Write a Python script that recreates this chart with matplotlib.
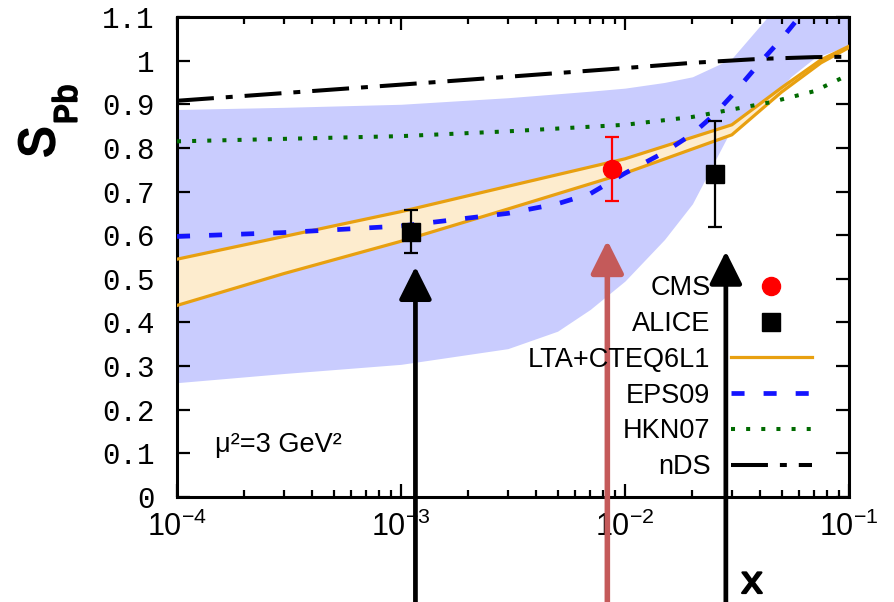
import matplotlib
matplotlib.use('Agg')
import matplotlib.pyplot as plt
import matplotlib.patheffects as pe
from matplotlib.lines import Line2D
from matplotlib.ticker import LogLocator, NullFormatter

plt.rcParams['lines.scale_dashes'] = False
plt.rcParams['mathtext.fontset'] = 'custom'
plt.rcParams['mathtext.rm'] = 'Liberation Sans'
plt.rcParams['mathtext.it'] = 'Liberation Sans:italic'
plt.rcParams['mathtext.bf'] = 'Liberation Sans:bold'
plt.rcParams['mathtext.sf'] = 'Liberation Sans'

# bande EPS09 (incertitude)
band_x = [1e-4, 3e-4, 1e-3, 3e-3, 5e-3, 7e-3, 1e-2, 1.5e-2, 2e-2, 3e-2, 4.5e-2, 5.5e-2, 7e-2, 1e-1]
band_lo = [0.262, 0.283, 0.304, 0.34, 0.38, 0.43, 0.495, 0.59, 0.672, 0.845, 0.91, 0.963, 1.006, 1.035]
band_hi = [0.888, 0.893, 0.900, 0.915, 0.924, 0.930, 0.937, 0.950, 0.963, 1.005, 1.11, 1.2, 1.3, 1.4]

# LTA+CTEQ6L1
lta_x = [1e-4, 3e-4, 1e-3, 3e-3, 1e-2, 3e-2, 5e-2, 7.5e-2, 1e-1]
lta_hi = [0.545, 0.597, 0.654, 0.712, 0.775, 0.853, 0.938, 1.002, 1.033]
lta_lo = [0.439, 0.512, 0.586, 0.66, 0.742, 0.830, 0.928, 0.995, 1.03]

# EPS09
eps_x = [1e-4, 3e-4, 1e-3, 3e-3, 5e-3, 7e-3, 1e-2, 1.5e-2, 2e-2, 2.5e-2, 3e-2, 4e-2, 5e-2, 6e-2, 8e-2]
eps_y = [0.597, 0.606, 0.621, 0.650, 0.672, 0.695, 0.742, 0.79, 0.832, 0.876, 0.92, 0.995, 1.05, 1.10, 1.2]

# HKN07
hkn_x = [1e-4, 1e-3, 3e-3, 1e-2, 2e-2, 3e-2, 4.5e-2, 7e-2, 1e-1]
hkn_y = [0.815, 0.827, 0.838, 0.853, 0.871, 0.888, 0.905, 0.93, 0.968]

# nDS
nds_x = [1e-4, 1e-3, 3e-3, 1e-2, 2e-2, 4e-2, 7e-2, 1e-1]
nds_y = [0.908, 0.945, 0.963, 0.983, 0.995, 1.004, 1.008, 1.009]

# points experimentaux
cms_x = [0.00877]
cms_y = [0.752]
cms_err_lo = [0.073]
cms_err_hi = [0.074]

alice_x = [0.00111, 0.0252]
alice_y = [0.608, 0.740]
alice_err_lo = [0.048, 0.121]
alice_err_hi = [0.050, 0.121]

# fleches
arrow_x = [0.00116, 0.00834, 0.0282]
arrow_tip = [0.528, 0.588, 0.563]
arrow_col = ['black', '#c45a5a', 'black']

xtick_vals = [1e-4, 1e-3, 1e-2, 1e-1]
xtick_labels = [r'$10^{-4}$', r'$10^{-3}$', r'$10^{-2}$', r'$10^{-1}$']
ytick_vals = [0, 0.1, 0.2, 0.3, 0.4, 0.5, 0.6, 0.7, 0.8, 0.9, 1.0, 1.1]
ytick_labels = ['0', '0.1', '0.2', '0.3', '0.4', '0.5', '0.6', '0.7', '0.8', '0.9', '1', '1.1']

orange = '#e8a010'

fig = plt.figure(figsize=(8.94, 6.02), dpi=100)
ax = fig.add_axes([177 / 894, 1 - 497 / 602, 672 / 894, 480 / 602])

ax.fill_between(band_x, band_lo, band_hi, color='#c9ccfe', lw=0, zorder=1)
ax.fill_between(lta_x, lta_lo, lta_hi, color='#fdecce', lw=0, zorder=2)
ax.plot(lta_x, lta_hi, color=orange, lw=2.3, zorder=3)
ax.plot(lta_x, lta_lo, color=orange, lw=2.3, zorder=3)
ax.plot(hkn_x, hkn_y, color='#006a00', lw=2.9, dashes=(2.9, 8), zorder=3)
ax.plot(nds_x, nds_y, color='black', lw=2.9, dashes=(26.6, 8.6, 5, 8.6), zorder=3)
ax.plot(eps_x, eps_y, color='#1414ff', lw=3.4, dashes=(9.4, 13.7), zorder=4)

# fleches depuis le bas
for x, tip, c in zip(arrow_x, arrow_tip, arrow_col):
    ax.annotate('', xy=(x, tip), xytext=(x, -3), xycoords='data', textcoords='data',
                annotation_clip=False,
                arrowprops=dict(arrowstyle='-|>,head_length=1.0,head_width=0.5',
                                color=c, lw=3.4 if c == 'black' else 4.0,
                                mutation_scale=20, shrinkA=0, shrinkB=0),
                zorder=5)

ax.errorbar(alice_x, alice_y, yerr=[alice_err_lo, alice_err_hi], fmt='none', ecolor='black',
            elinewidth=1.6, capsize=5, capthick=1.6, zorder=6)
ax.errorbar(cms_x, cms_y, yerr=[cms_err_lo, cms_err_hi], fmt='none', ecolor='red',
            elinewidth=1.6, capsize=5, capthick=1.6, zorder=6)
ax.plot(alice_x, alice_y, 's', color='black', ms=13.5, zorder=7)
ax.plot(cms_x, cms_y, 'o', color='red', ms=13, zorder=7)

ax.set_xscale('log')
ax.set_xlim(1e-4, 1e-1)
ax.set_ylim(0, 1.1)
ax.set_xticks(xtick_vals)
ax.set_xticklabels(xtick_labels)
ax.xaxis.set_minor_locator(LogLocator(base=10, subs=range(2, 10)))
ax.xaxis.set_minor_formatter(NullFormatter())
ax.set_yticks(ytick_vals)
ax.set_yticklabels(ytick_labels)
for lab in ax.get_yticklabels():
    lab.set_fontfamily('Liberation Mono')

ax.tick_params(which='both', direction='in', top=True, right=True, width=1.6)
ax.tick_params(which='major', length=9.5)
ax.tick_params(which='minor', length=5)
ax.tick_params(axis='x', which='major', pad=10, labelsize=22)
ax.tick_params(axis='y', pad=16, labelsize=21)
for s in ax.spines.values():
    s.set_linewidth(2.2)

# legende
handles = [
    Line2D([], [], ls='none', marker='o', color='red', ms=13),
    Line2D([], [], ls='none', marker='s', color='black', ms=13.5),
    Line2D([], [], color=orange, lw=2.3),
    Line2D([], [], color='#1414ff', lw=3.4, dashes=(9.4, 13.7)),
    Line2D([], [], color='#006a00', lw=2.9, dashes=(2.9, 8)),
    Line2D([], [], color='black', lw=2.9, dashes=(26.6, 8.6, 5, 8.6)),
]
labels = ['CMS', 'ALICE', 'LTA+CTEQ6L1', 'EPS09', 'HKN07', 'nDS']
ax.legend(handles, labels, loc='lower right', bbox_to_anchor=(0.945, 0.035), frameon=False,
          markerfirst=False, prop={'family': 'Liberation Sans', 'size': 19.5},
          handlelength=3.0, handletextpad=0.75, labelspacing=0.36, borderpad=0,
          borderaxespad=0, numpoints=1)

ax.text(0.0565, 0.108, 'μ²=3 GeV²', transform=ax.transAxes, fontsize=19.5,
        family='Liberation Sans', va='center', ha='left')

# titres des axes (courier gras simule par un contour)
gras = [pe.withStroke(linewidth=1.6, foreground='black')]
fig.text(40 / 894, 1 - 142 / 602, 'S', rotation=90, family='Liberation Mono',
         fontsize=38, ha='center', va='center', path_effects=gras)
fig.text(68 / 894, 1 - 104 / 602, 'Pb', rotation=90, family='Liberation Mono',
         fontsize=24, ha='center', va='center', path_effects=gras)
fig.text(752 / 894, 1 - 601 / 602, 'x', family='Liberation Mono',
         fontsize=28, ha='center', va='bottom', path_effects=gras)

fig.savefig('out.png', dpi=100)
